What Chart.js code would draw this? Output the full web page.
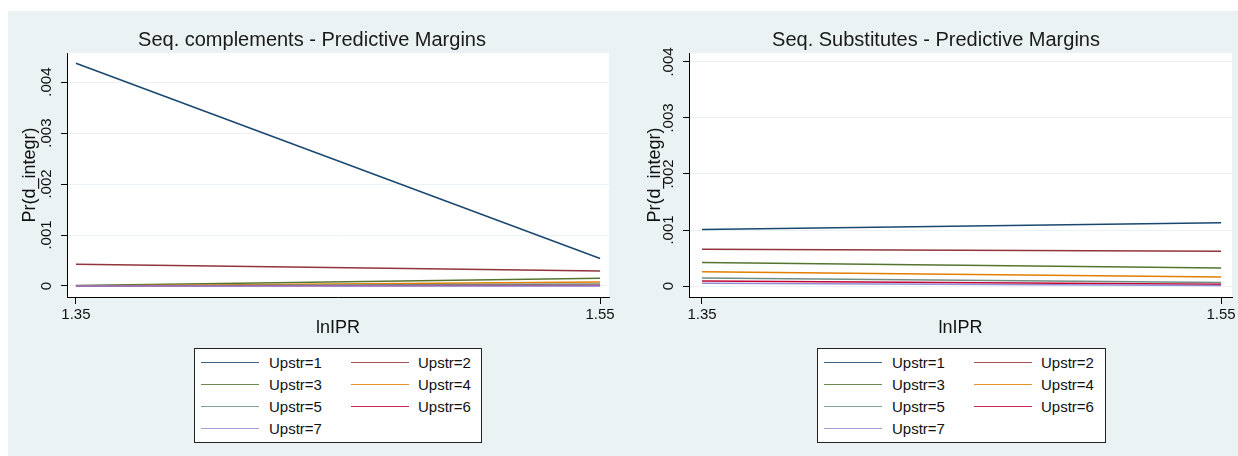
<!DOCTYPE html>
<html>
<head>
<meta charset="utf-8">
<script src="https://cdn.jsdelivr.net/npm/chart.js@4.4.1/dist/chart.umd.min.js"></script>
<style>
  body { margin: 0; background: #fff; font-family: "Liberation Sans", Arial, sans-serif; }
  #bg { position: absolute; left: 8px; top: 11px; width: 1230px; height: 445px; background: #eaf2f3; }
  canvas { position: absolute; top: 11px; }
  .legend { position: absolute; top: 348px; height: 93px; background: #fff; border: 1px solid #222; }
  .legend .ln { position: absolute; height: 0; border-top: 1.5px solid; width: 58px; opacity: 0.85; }
  .legend .lb { position: absolute; font-size: 15px; color: #111; line-height: 16px; }
</style>
</head>
<body>
<div id="bg"></div>
<canvas id="left" width="612" height="445" style="left:8px"></canvas>
<canvas id="right" width="618" height="445" style="left:620px"></canvas>
<div class="legend" id="legLeft" style="left:194px;width:286px"></div>
<div class="legend" id="legRight" style="left:817px;width:287px"></div>
<script>
// x positions of the margins
var xVals = [1.35, 1.55];
var xTickLabels = ['1.35', '1.55'];
var yTicks = [0, 0.001, 0.002, 0.003, 0.004];
var yTickLabels = ['0', '.001', '.002', '.003', '.004'];
var seriesNames = ['Upstr=1', 'Upstr=2', 'Upstr=3', 'Upstr=4', 'Upstr=5', 'Upstr=6', 'Upstr=7'];
var seriesColors = ['#1a476f', '#90353b', '#55752f', '#e37e00', '#6e8e84', '#c10534', '#938dd2'];

// Seq. complements
var comp1 = [0.00437, 0.00054];
var comp2 = [0.000425, 0.000294];
var comp3 = [0.00001, 0.00015];
var comp4 = [0.0, 0.00008];
var comp5 = [0.0, 0.00004];
var comp6 = [0.0, 0.00001];
var comp7 = [0.0, 0.0];

// Seq. substitutes
var subs1 = [0.00101, 0.00113];
var subs2 = [0.000655, 0.00062];
var subs3 = [0.00042, 0.00032];
var subs4 = [0.000256, 0.00016];
var subs5 = [0.000143, 0.000065];
var subs6 = [0.00009, 0.00003];
var subs7 = [0.00005, 0.00001];

var FONT = '"Liberation Sans", Arial, sans-serif';

var plotBg = {
	id: 'plotBg',
	beforeDraw: function (chart) {
		var a = chart.chartArea, ctx = chart.ctx;
		ctx.save();
		ctx.fillStyle = '#ffffff';
		ctx.fillRect(a.left, a.top, a.right - a.left, a.bottom - a.top);
		ctx.restore();
	}
};

function makeSets(list) {
	return list.map(function (vals, i) {
		return {
			label: seriesNames[i],
			data: xVals.map(function (x, j) { return { x: x, y: vals[j] }; }),
			borderColor: seriesColors[i],
			backgroundColor: seriesColors[i],
			borderWidth: 1.5,
			pointRadius: 0,
			tension: 0,
			order: list.length - i
		};
	});
}

function makeChart(id, title, sets, cfg) {
	return new Chart(document.getElementById(id).getContext('2d'), {
		type: 'line',
		data: { datasets: makeSets(sets) },
		plugins: [plotBg],
		options: {
			responsive: false,
			animation: false,
			devicePixelRatio: 1,
			layout: { padding: { left: cfg.padLeft, right: cfg.padRight, top: 0, bottom: 113 } },
			plugins: {
				legend: { display: false },
				tooltip: { enabled: false },
				title: {
					display: true,
					text: title,
					color: '#1a1a1a',
					font: { family: FONT, size: 20, weight: 'normal' },
					padding: { top: 17, bottom: 1 }
				}
			},
			scales: {
				x: {
					type: 'linear',
					min: cfg.xMin, max: cfg.xMax,
					afterBuildTicks: function (s) { s.ticks = xVals.map(function (v) { return { value: v }; }); },
					afterFit: function (s) { s.height = 46; },
					ticks: {
						color: '#111',
						font: { family: FONT, size: 15 },
						padding: 2,
						maxRotation: 0,
						callback: function (v) { return xTickLabels[xVals.indexOf(v)]; }
					},
					grid: { drawOnChartArea: false, drawTicks: true, tickLength: 7, tickColor: '#000', tickWidth: 1 },
					border: { color: '#000', width: 1 },
					title: { display: true, text: 'lnIPR', color: '#111', font: { family: FONT, size: 18 }, padding: { top: 0, bottom: 4 } }
				},
				y: {
					min: cfg.yMin, max: cfg.yMax,
					afterBuildTicks: function (s) { s.ticks = yTicks.map(function (v) { return { value: v }; }); },
					afterFit: function (s) { s.width = cfg.yWidth; },
					ticks: {
						color: '#111',
						font: { family: FONT, size: 15 },
						padding: 0,
						minRotation: 90,
						maxRotation: 90,
						crossAlign: 'center',
						callback: function (v) { return yTickLabels[yTicks.indexOf(v)]; }
					},
					grid: { color: '#eaf2f3', lineWidth: 1, drawTicks: true, tickLength: 6, tickColor: '#000', tickWidth: 1 },
					border: { color: '#000', width: 1 },
					title: { display: true, text: 'Pr(d_integr)', color: '#111', font: { family: FONT, size: 18 }, padding: { top: 4, bottom: 0 } }
				}
			}
		}
	});
}

function makeLegend(id) {
	var box = document.getElementById(id);
	seriesNames.forEach(function (name, i) {
		var col = i % 2, row = Math.floor(i / 2);
		var y = 14 + row * 22;
		var ln = document.createElement('div');
		ln.className = 'ln';
		ln.style.left = (6 + col * 150) + 'px';
		ln.style.top = (y - 1) + 'px';
		ln.style.borderTopColor = seriesColors[i];
		box.appendChild(ln);
		var lb = document.createElement('div');
		lb.className = 'lb';
		lb.style.left = (74 + col * 149) + 'px';
		lb.style.top = (y - 8) + 'px';
		lb.textContent = name;
		box.appendChild(lb);
	});
}

makeChart('left', 'Seq. complements - Predictive Margins',
	[comp1, comp2, comp3, comp4, comp5, comp6, comp7],
	{ padLeft: 7, padRight: 11, yWidth: 52, yMin: -0.000216, yMax: 0.00457, xMin: 1.3466, xMax: 1.5534 });
makeChart('right', 'Seq. Substitutes - Predictive Margins',
	[subs1, subs2, subs3, subs4, subs5, subs6, subs7],
	{ padLeft: 20, padRight: 6, yWidth: 49, yMin: -0.000196, yMax: 0.00416, xMin: 1.345, xMax: 1.5542 });
makeLegend('legLeft');
makeLegend('legRight');
</script>
</body>
</html>
